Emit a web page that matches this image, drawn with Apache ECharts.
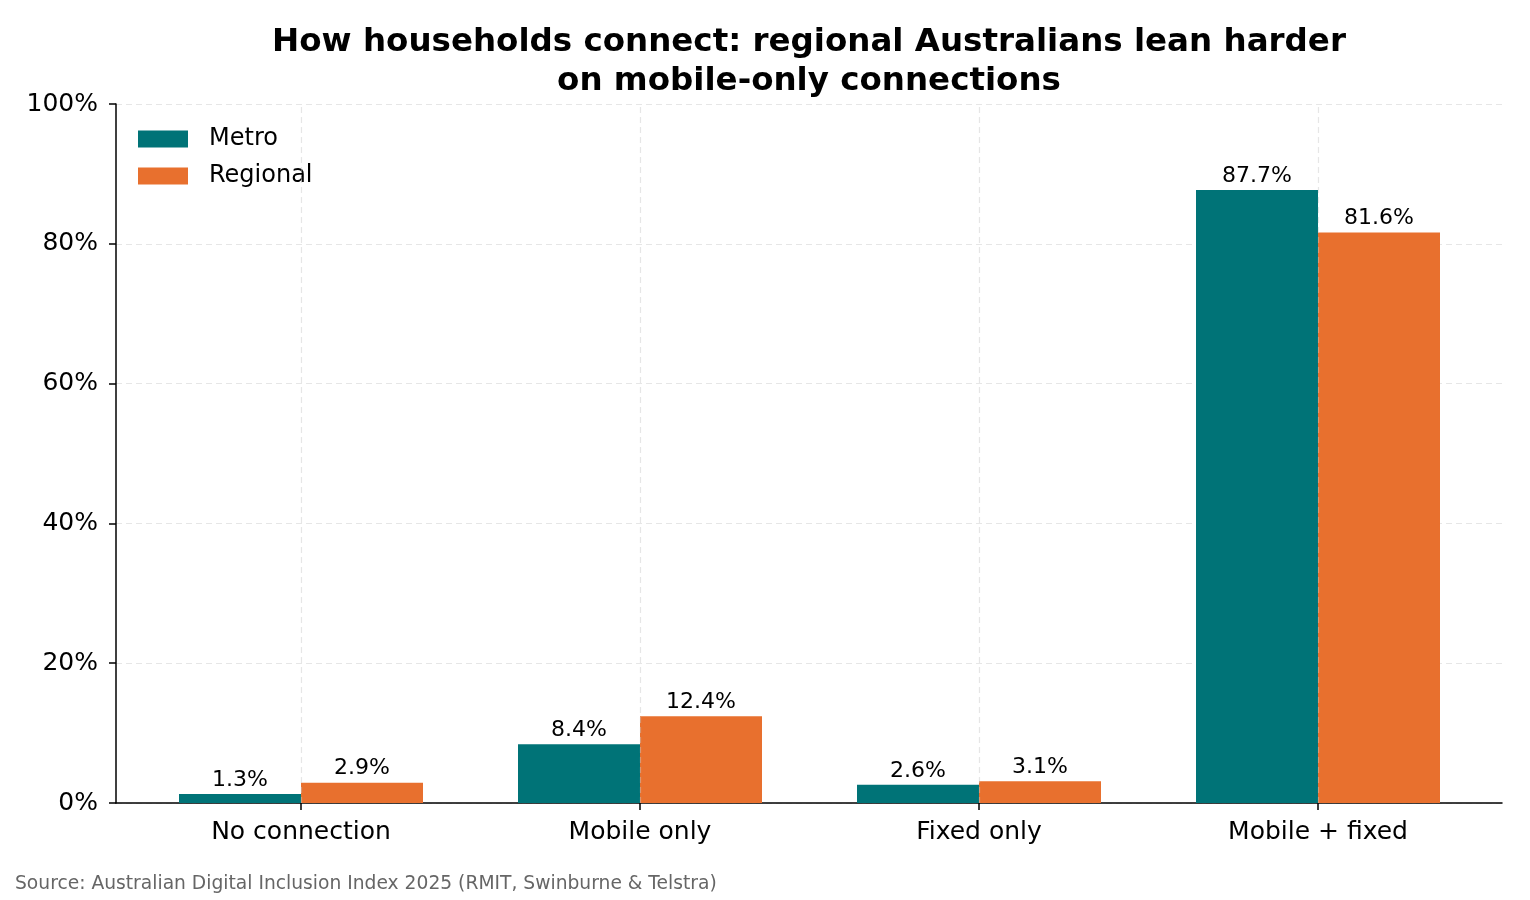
<!DOCTYPE html>
<html>
<head>
<meta charset="utf-8">
<script src="https://cdn.jsdelivr.net/npm/echarts@6/dist/echarts.min.js"></script>
<style>
html, body { margin: 0; padding: 0; background: #fff; }
#main { width: 1530px; height: 900px; }
</style>
</head>
<body>
<div id="main"></div>
<script>
// 数据
var categories = ['No connection', 'Mobile only', 'Fixed only', 'Mobile + fixed'];
var metroValues = [1.3, 8.4, 2.6, 87.7];
var regionalValues = [2.9, 12.4, 3.1, 81.6];
var yTicks = [0, 20, 40, 60, 80, 100];

var font = 'DejaVu Sans';
var chart = echarts.init(document.getElementById('main'));

var gridLine = { color: 'rgba(200,200,200,0.45)', type: [6, 4], width: 1.2 };
var axisBlack = { color: '#000', width: 1.5 };

function pct(p) { return p.value.toFixed(1) + '%'; }

var option = {
    animation: false,
    textStyle: { fontFamily: font },
    title: {
        text: 'How households connect: regional Australians lean harder\non mobile-only connections',
        left: 804,
        top: 18,
        textAlign: 'center',
        textStyle: { fontFamily: font, fontSize: 32.5, fontWeight: 'bold', color: '#000', lineHeight: 39 }
    },
    legend: {
        orient: 'vertical',
        left: 133,
        top: 122,
        itemWidth: 50,
        itemHeight: 17,
        itemGap: 13,
        icon: 'rect',
        textStyle: { fontFamily: font, fontSize: 24, color: '#000', padding: [0, 0, 0, 16] },
        data: ['Metro', 'Regional']
    },
    graphic: [{
        type: 'text',
        left: 15,
        top: 875,
        style: {
            text: 'Source: Australian Digital Inclusion Index 2025 (RMIT, Swinburne & Telstra)',
            fontFamily: font, fontSize: 18.7, fill: '#666'
        }
    }],
    // 外框网格：坐标轴线 + 横向网格线；内网格：类目与柱子（两侧留白）
    grid: [
        { left: 116, right: 28, top: 104, bottom: 97 },
        { left: 131.5, right: 42.5, top: 104, bottom: 97 }
    ],
    xAxis: [
        {
            gridIndex: 0,
            type: 'value',
            min: 0, max: 1,
            axisLine: { show: true, lineStyle: axisBlack },
            axisTick: { show: false },
            axisLabel: { show: false },
            splitLine: { show: false }
        },
        {
            gridIndex: 1,
            type: 'category',
            data: categories,
            axisLine: { show: false },
            axisTick: { show: true, alignWithLabel: true, length: 7, lineStyle: axisBlack },
            axisLabel: { fontFamily: font, fontSize: 25, color: '#000', margin: 17 },
            splitLine: { show: false }
        }
    ],
    yAxis: [
        {
            gridIndex: 0,
            type: 'value',
            min: yTicks[0],
            max: yTicks[yTicks.length - 1],
            interval: 20,
            axisLine: { show: true, lineStyle: axisBlack },
            axisTick: { show: true, length: 7, lineStyle: axisBlack },
            axisLabel: { fontFamily: font, fontSize: 25, color: '#000', margin: 18, formatter: '{value}%' },
            splitLine: { show: true, lineStyle: gridLine }
        },
        {
            gridIndex: 1,
            type: 'value',
            min: yTicks[0],
            max: yTicks[yTicks.length - 1],
            show: false
        }
    ],
    series: [
        {
            name: 'Metro',
            type: 'bar',
            xAxisIndex: 1,
            yAxisIndex: 1,
            data: metroValues,
            barWidth: 122,
            barGap: '0%',
            itemStyle: { color: '#007377' },
            label: {
                show: true, position: 'top', distance: 3,
                fontFamily: font, fontSize: 22, color: '#000',
                formatter: pct
            }
        },
        {
            name: 'Regional',
            type: 'bar',
            xAxisIndex: 1,
            yAxisIndex: 1,
            data: regionalValues,
            barWidth: 122,
            itemStyle: { color: '#E8702E' },
            label: {
                show: true, position: 'top', distance: 3,
                fontFamily: font, fontSize: 22, color: '#000',
                formatter: pct
            }
        },
        {
            // 竖向网格线（类目中心）
            name: 'vgrid',
            type: 'line',
            xAxisIndex: 1,
            yAxisIndex: 1,
            data: [],
            z: 5,
            silent: true,
            markLine: {
                symbol: 'none',
                silent: true,
                label: { show: false },
                lineStyle: gridLine,
                data: categories.map(function (c) { return { xAxis: c }; })
            }
        }
    ]
};

chart.setOption(option);
</script>
</body>
</html>
